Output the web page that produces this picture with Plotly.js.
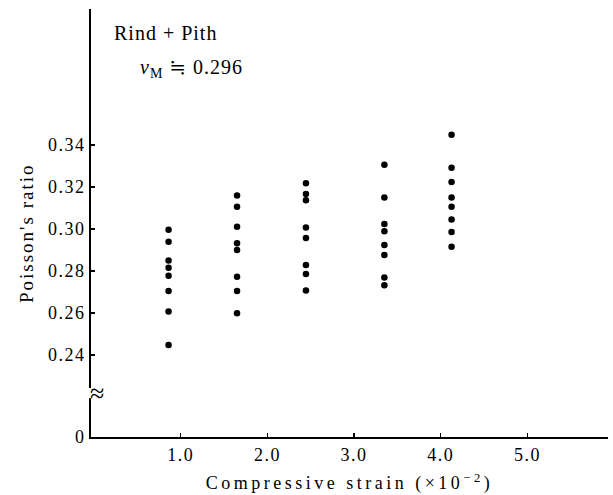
<!DOCTYPE html>
<html>
<head>
<meta charset="utf-8">
<script src="https://cdn.plot.ly/plotly-3.0.1.min.js"></script>
<style>
html,body{margin:0;padding:0;background:#fff;}
.xtick text,.ytick text{letter-spacing:1.5px;}
.xtitle{letter-spacing:3.5px;}
.annotation-text{letter-spacing:1px;}
.annotation[data-index="0"] .annotation-text{letter-spacing:2px;}
</style>
</head>
<body>
<div id="chart" style="width:613px;height:495px;"></div>
<script>
// Compressive strain (x10^-2) for each group of points
var strainGroups = [0.86, 1.65, 2.445, 3.35, 4.125];
// Poisson's ratio values read per group
var ratios1 = [0.2997, 0.2940, 0.2851, 0.2816, 0.2778, 0.2705, 0.2608, 0.2448];
var ratios2 = [0.3160, 0.3106, 0.3011, 0.2932, 0.2900, 0.2773, 0.2705, 0.2599];
var ratios3 = [0.3218, 0.3167, 0.3137, 0.3008, 0.2957, 0.2829, 0.2786, 0.2708];
var ratios4 = [0.3306, 0.3151, 0.3024, 0.2990, 0.2924, 0.2877, 0.2770, 0.2732];
var ratios5 = [0.3449, 0.3292, 0.3224, 0.3151, 0.3106, 0.3046, 0.2986, 0.2916];
var xTickVals = [1, 2, 3, 4, 5];
var xTickText = ["1.0", "2.0", "3.0", "4.0", "5.0"];
var yTickVals = [0.201, 0.24, 0.26, 0.28, 0.30, 0.32, 0.34];
var yTickText = ["0", "0.24", "0.26", "0.28", "0.30", "0.32", "0.34"];

var groups = [ratios1, ratios2, ratios3, ratios4, ratios5];
var xs = [], ys = [];
groups.forEach(function(g, i){
  g.forEach(function(v){ xs.push(strainGroups[i]); ys.push(v); });
});

var serif = "'Liberation Serif', 'DejaVu Serif', serif";
var trace = {
  x: xs, y: ys, type: "scatter", mode: "markers",
  marker: {color: "#000", size: 6.5},
  hoverinfo: "none", showlegend: false
};

var layout = {
  width: 613, height: 495,
  margin: {l: 91, r: 5, t: 9, b: 58},
  paper_bgcolor: "#fff", plot_bgcolor: "#fff",
  font: {family: serif, color: "#000", size: 18},
  xaxis: {
    range: [-0.035, 5.93], showgrid: false, zeroline: false,
    showline: true, linecolor: "#000", linewidth: 2,
    ticks: "inside", ticklen: 4, tickwidth: 1.5, tickcolor: "#000",
    tickvals: xTickVals, ticktext: xTickText,
    tickfont: {family: serif, size: 18},
    title: {text: "Compressive strain (×10<sup>−2</sup>)", font: {family: serif, size: 18}, standoff: 13}
  },
  yaxis: {
    range: [0.2010, 0.4048], showgrid: false, zeroline: false,
    showline: true, linecolor: "#000", linewidth: 2,
    ticks: "inside", ticklen: 4, tickwidth: 1.5, tickcolor: "#000",
    tickvals: yTickVals, ticktext: yTickText,
    tickfont: {family: serif, size: 18}
  },
  shapes: [{
    type: "rect", layer: "above", xref: "paper", yref: "y",
    x0: -0.012, x1: 0.006, y0: 0.2195, y1: 0.2243,
    fillcolor: "#fff", line: {width: 0}
  }],
  annotations: [
    {xref: "paper", yref: "y", x: -0.1257, y: 0.2979, xanchor: "center", yanchor: "middle",
     textangle: -90, text: "Poisson's ratio", showarrow: false,
     font: {family: serif, size: 19, color: "#000"}},
    {xref: "paper", yref: "y", x: -0.006, y: 0.2218, xanchor: "left", yanchor: "middle",
     text: "≈", showarrow: false, font: {family: serif, size: 26, color: "#000"}},
    {xref: "paper", yref: "paper", x: 0.04, y: 1.0, xanchor: "left", yanchor: "top", yshift: -11,
     text: "Rind + Pith", showarrow: false, font: {family: serif, size: 20, color: "#000"}},
    {xref: "paper", yref: "paper", x: 0.09, y: 1.0, xanchor: "left", yanchor: "top", yshift: -45,
     text: "<i>ν</i><sub>M</sub> ≒ 0.296", showarrow: false, font: {family: serif, size: 20, color: "#000"}}
  ]
};

Plotly.newPlot("chart", [trace], layout, {staticPlot: true, displayModeBar: false});
</script>
</body>
</html>
